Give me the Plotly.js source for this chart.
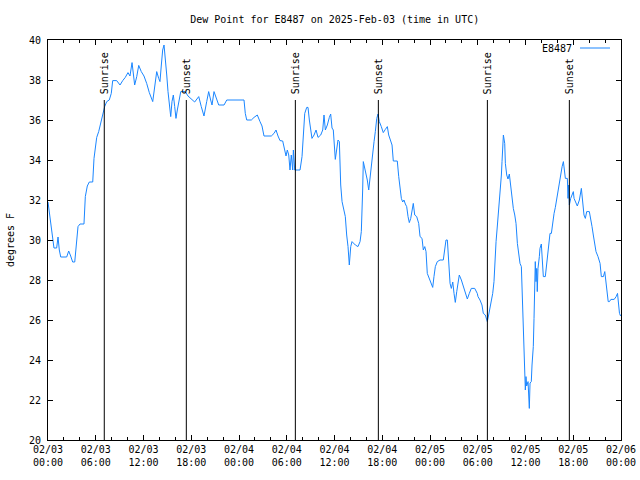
<!DOCTYPE html>
<html>
<head>
<meta charset="utf-8">
<script src="https://cdn.plot.ly/plotly-3.0.1.min.js"></script>
<style>html,body{margin:0;padding:0;background:#fff;}#chart{width:640px;height:480px;}</style>
</head>
<body>
<div id="chart"></div>
<script>
// Hours since 2025-02-03 00:00 UTC
const hours = [
0.00,0.25,0.50,0.75,1.09,1.26,1.42,1.60,2.35,2.60,2.85,3.10,3.36,3.52,3.77,4.02,4.52,4.69,4.94,5.19,5.62,5.78,5.94,6.12,6.37,6.62,6.87,7.12,7.38,7.70,7.95,8.13,8.63,9.05,9.39,9.71,10.05,10.30,10.56,10.72,10.89,11.15,11.40,11.72,12.06,12.40,12.73,13.16,13.48,13.66,13.91,14.07,14.24,14.41,14.58,14.74,14.92,15.08,15.33,15.42,15.58,15.75,15.92,16.08,16.25,16.42,16.68,17.25,17.50,
17.59,18.43,18.94,19.26,19.60,19.94,20.19,20.44,20.61,20.86,21.20,21.45,22.12,22.46,24.63,24.79,24.97,25.55,25.89,26.30,26.64,26.89,27.14,28.06,28.40,28.65,28.90,29.15,29.49,29.74,29.91,30.07,30.25,30.41,30.57,30.75,30.83,31.00,31.67,31.92,32.08,32.26,32.51,32.67,32.84,33.01,33.17,33.43,33.68,33.93,34.27,34.52,34.68,34.85,35.10,35.35,35.52,35.69,35.85,
36.10,36.28,36.44,36.61,36.78,36.95,37.20,37.36,37.53,37.70,37.86,38.04,38.20,38.62,38.95,39.21,39.37,39.46,39.54,39.62,39.80,39.96,40.12,40.30,40.46,40.63,40.80,40.97,41.13,41.31,41.47,41.63,41.88,42.13,42.39,42.64,42.81,43.06,43.23,43.39,43.89,44.07,44.23,44.40,44.57,44.73,44.90,45.07,45.24,45.40,45.58,45.74,45.90,46.08,46.33,46.58,46.75,47.00,47.16,47.34,47.50,47.66,47.91,48.16,48.34,48.50,48.67,48.92,49.26,49.67,49.85,50.01,50.18,50.35,50.52,50.68,50.86,51.02,51.18,51.36,51.52,51.68,51.94,52.19,52.44,52.69,52.94,53.19,53.62,53.94,
54.03,54.28,54.53,54.70,54.95,55.12,55.20,55.37,55.54,55.70,55.88,56.04,56.13,56.30,56.46,56.64,56.71,56.89,56.97,57.05,57.14,57.22,57.39,57.47,57.64,57.80,57.97,58.14,58.31,58.47,58.65,58.81,58.98,59.15,59.31,59.48,59.56,59.65,59.81,59.90,59.98,60.06,60.15,60.32,60.41,60.48,60.57,60.73,60.82,60.98,61.07,61.16,61.23,61.32,61.41,61.48,61.57,61.74,61.82,61.99,62.08,62.24,62.49,62.67,62.83,62.92,63.08,63.25,63.42,63.59,63.75,63.93,64.09,64.26,64.43,64.60,64.76,64.85,65.01,65.26,65.34,65.43,65.51,65.68,65.85,66.01,66.10,66.26,66.51,66.77,66.94,67.02,67.10,67.19,67.35,67.52,67.69,68.02,68.20,68.36,68.52,68.70,68.86,69.11,69.37,69.53,69.79,69.96,70.13,70.30,70.39,70.55,70.73,71.14,71.39,71.56,71.73,71.81,71.95
];
const dewPoint = [
31.9,31.1,30.25,29.6,29.6,30.15,29.5,29.15,29.15,29.45,29.2,28.9,28.9,29.6,30.67,30.8,30.8,32.17,32.7,32.9,32.9,34.08,34.67,35.13,35.42,35.83,36.2,36.67,36.92,37.0,37.33,37.97,37.97,37.75,37.97,38.13,38.37,38.2,38.87,38.3,37.75,38.17,38.73,38.42,38.2,37.83,37.37,36.92,37.83,38.42,38.08,37.92,38.75,39.5,39.75,39.17,38.25,37.42,36.5,36.17,36.92,37.25,36.67,36.08,36.5,36.92,37.42,37.42,37.3,
37.2,36.9,37.17,36.67,36.2,36.92,37.42,37.0,36.75,37.42,37.0,36.75,36.75,37.0,37.0,36.33,36.0,36.0,36.13,36.25,35.92,35.7,35.2,35.2,35.33,35.5,35.2,34.97,34.95,34.5,34.2,34.5,34.25,33.5,34.25,33.5,34.5,33.5,33.5,34.17,35.17,36.33,36.63,36.63,36.0,35.5,35.08,35.25,35.5,35.13,35.25,35.5,36.25,35.5,35.75,36.13,36.3,35.6,35.5,
34.03,34.67,35.0,34.92,32.75,31.92,31.5,31.17,30.25,29.67,28.75,29.67,29.92,29.75,29.67,29.92,30.42,31.33,32.5,33.92,33.6,33.17,33.0,32.5,33.17,33.75,34.33,34.92,35.42,36.08,36.3,35.92,35.67,35.37,35.53,35.67,35.25,34.97,34.75,33.95,33.95,33.17,32.58,32.08,31.9,32.0,31.8,31.67,31.17,30.87,31.08,31.58,31.83,31.25,31.17,30.83,30.17,30.08,29.5,29.67,29.42,28.33,28.08,27.83,27.63,28.17,28.67,28.92,29.0,29.0,29.5,30.0,30.0,28.83,27.83,27.58,27.9,27.33,26.88,27.42,27.83,28.25,28.0,27.67,27.33,27.05,27.33,27.58,27.58,27.33,
27.17,27.0,26.75,26.33,26.25,26.08,25.92,26.25,26.58,27.0,27.33,27.92,28.92,29.92,30.7,31.5,32.08,32.67,33.25,33.92,34.83,35.25,34.83,33.83,33.25,33.05,33.3,32.67,32.17,31.58,31.25,30.83,29.83,29.25,28.83,28.67,27.83,26.42,24.92,23.33,22.5,23.17,22.7,22.92,22.0,21.58,22.85,22.92,23.75,24.67,26.08,27.92,28.92,27.92,28.58,27.42,28.58,29.17,29.58,29.8,29.33,28.17,28.17,28.83,29.33,30.0,30.33,30.33,30.92,31.33,31.63,32.08,32.58,32.92,33.25,33.67,33.92,33.5,33.08,33.08,32.08,32.75,31.75,32.08,32.25,32.42,32.08,31.92,31.7,32.0,32.42,32.58,32.25,31.75,31.25,31.08,31.42,31.42,31.08,30.67,30.25,29.75,29.42,29.17,28.83,28.17,28.17,28.42,27.67,27.25,26.92,26.92,27.03,27.03,27.17,27.33,26.67,26.33,26.2
];
// Sun events (hours since 2025-02-03 00:00 UTC)
const eventHours = [7.07, 17.38, 31.08, 41.51, 55.21, 65.51];
const eventLabels = ["Sunrise","Sunset","Sunrise","Sunset","Sunrise","Sunset"];
const eventTop = 37;
const yMin = 20, yMax = 40;
const seriesName = "E8487";

const t0 = Date.UTC(2025,1,3,0,0,0);
function toTime(h){
  const d = new Date(t0 + Math.round(h*3600000));
  return d.toISOString().slice(0,19).replace('T',' ');
}
const times = hours.map(toTime);

const FONT = "DejaVu Sans Mono";
const lineColor = "#1a86ff";

const traces = [{
  x: times, y: dewPoint, type: 'scatter', mode: 'lines', name: seriesName,
  line: {color: lineColor, width: 1}, showlegend: false, hoverinfo: 'skip'
}];
eventHours.forEach(h => {
  traces.push({x: [toTime(h), toTime(h)], y: [eventTop, yMin], type: 'scatter', mode: 'lines',
    line: {color: '#000', width: 1}, showlegend: false, hoverinfo: 'skip'});
});

const annotations = eventHours.map((h,i) => ({
  x: toTime(h), y: eventTop, xref: 'x', yref: 'y', text: eventLabels[i], textangle: -90,
  showarrow: false, xanchor: 'center', yanchor: 'bottom', yshift: 4,
  font: {family: FONT, size: 10, color: '#000'}
}));
annotations.push({
  x: (574-48)/573, y: 1 - (48-40)/400, xref: 'paper', yref: 'paper', text: seriesName, showarrow: false,
  xanchor: 'right', yanchor: 'middle', font: {family: FONT, size: 10, color: '#000'}
});

const layout = {
  width: 640, height: 480,
  margin: {l: 48, r: 19, t: 40, b: 40, pad: 0},
  paper_bgcolor: '#fff', plot_bgcolor: '#fff',
  font: {family: FONT, size: 10, color: '#000'},
  title: {text: "Dew Point for E8487 on 2025-Feb-03 (time in UTC)", x: 0.523, xanchor: 'center', y: 1 - 19/480, yanchor: 'middle', yref: 'container', font: {family: FONT, size: 10, color: '#000'}},
  xaxis: {
    type: 'date', range: [toTime(0), toTime(72)], tickmode: 'linear', tick0: toTime(0), dtick: 6*3600000,
    tickformat: '%m/%d\n%H:%M', ticks: 'inside', ticklen: 5, tickcolor: '#000', tickwidth: 1,
    showgrid: false, zeroline: false, showline: true, linecolor: '#000', linewidth: 1, mirror: 'allticks',
    minor: {ticks: 'inside', ticklen: 3, tickcolor: '#000', dtick: 2*3600000, tick0: toTime(0), showgrid: false},
    tickfont: {family: FONT, size: 10, color: '#000'}
  },
  yaxis: {
    range: [yMin, yMax], tickmode: 'linear', tick0: 20, dtick: 2, ticks: 'inside', ticklen: 5, tickcolor: '#000',
    showgrid: false, zeroline: false, showline: true, linecolor: '#000', linewidth: 1, mirror: 'allticks',
    ticklabelstandoff: 4,
    tickfont: {family: FONT, size: 10, color: '#000'},
    title: {text: 'degrees F', standoff: 12, font: {family: FONT, size: 10, color: '#000'}}
  },
  annotations: annotations,
  shapes: [{type: 'line', xref: 'paper', yref: 'paper', x0: (580-48)/573, x1: (610-48)/573, y0: 1-(48-40)/400, y1: 1-(48-40)/400, line: {color: lineColor, width: 1}}]
};

Plotly.newPlot('chart', traces, layout, {staticPlot: true, displayModeBar: false});
</script>
</body>
</html>
